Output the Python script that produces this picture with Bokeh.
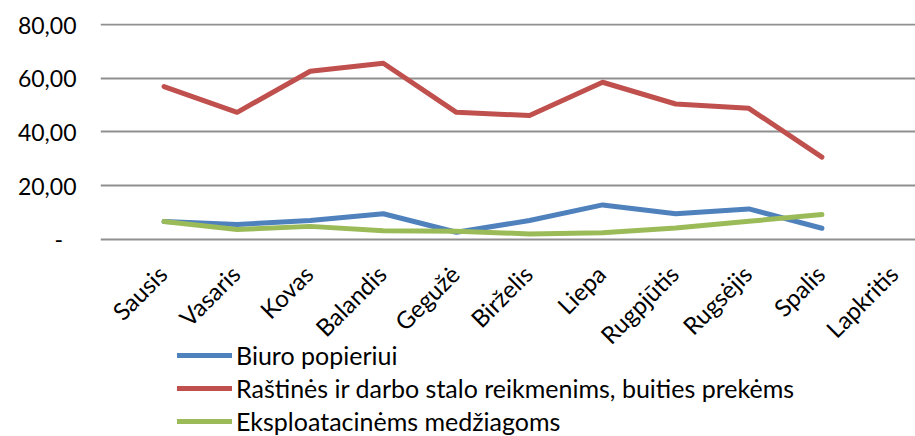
from bokeh.plotting import figure
from bokeh.models import Range1d, FixedTicker, Legend, LegendItem, ColumnDataSource
from bokeh.core.properties import value
from bokeh.embed import file_html
from bokeh.resources import INLINE

months = ["Sausis", "Vasaris", "Kovas", "Balandis", "Gegužė", "Birželis",
          "Liepa", "Rugpjūtis", "Rugsėjis", "Spalis", "Lapkritis"]
biuro = [6.6, 5.5, 7.0, 9.5, 2.6, 7.0, 12.8, 9.5, 11.3, 4.1]
rastines = [56.9, 47.3, 62.6, 65.6, 47.3, 46.1, 58.5, 50.4, 48.8, 30.6]
eksplo = [6.6, 3.6, 4.8, 3.2, 3.0, 2.0, 2.4, 4.2, 6.7, 9.2]
y_ticks = [0, 20, 40, 60, 80]
y_labels = ["-\u2007", "20,00", "40,00", "60,00", "80,00"]
series_names = ["Biuro popieriui",
                "Raštinės ir darbo stalo reikmenims, buities prekėms",
                "Eksploatacinėms medžiagoms"]

FONT = "Lato"
X_START, X_END = -0.5, 10.28

# plot frame covers the whole lower area; the category axis sits at y = 0
p = figure(frame_width=815, frame_height=413, output_backend="svg", toolbar_location=None,
           x_range=Range1d(-0.869, X_END), y_range=Range1d(-73.5, 80.4),
           x_axis_location=None,
           min_border_left=100, min_border_right=0, min_border_top=23,
           min_border_bottom=0)
p.outline_line_color = None
p.background_fill_color = None
p.border_fill_color = "white"

x = list(range(len(biuro)))
colors = ["#4F81BD", "#C0504D", "#9BBB59"]
renderers = []
for ys, c in zip([biuro, rastines, eksplo], colors):
    r = p.line(x, ys, line_color=c, line_width=5, line_cap="round", line_join="round")
    renderers.append(r)

# category labels, rotated 45 degrees under the zero line
cat_src = ColumnDataSource(dict(x=list(range(len(months))), y=[0] * len(months), text=months))
p.text(x="x", y="y", text="text", source=cat_src, angle=0.785398,
       text_align="right", text_baseline="top", x_offset=-12, y_offset=20,
       text_font=value(FONT), text_font_size="24px", text_color="black")

p.yaxis.ticker = FixedTicker(ticks=y_ticks)
p.yaxis.major_label_overrides = {t: l for t, l in zip(y_ticks, y_labels)}
p.yaxis.axis_line_color = None
p.yaxis.major_tick_line_color = None
p.yaxis.minor_tick_line_color = None
p.yaxis.major_tick_out = 0
p.yaxis.major_label_standoff = 24
p.yaxis.major_label_text_font = FONT
p.yaxis.major_label_text_font_size = "23px"
p.yaxis.major_label_text_color = "black"

p.xgrid.grid_line_color = None
p.ygrid.grid_line_color = "#8f8f8f"
p.ygrid.grid_line_width = 2
p.ygrid.ticker = FixedTicker(ticks=y_ticks)
p.ygrid.bounds = (X_START, X_END)

legend = Legend(items=[LegendItem(label=n, renderers=[r]) for n, r in zip(series_names, renderers)],
                location=(77, 0), orientation="vertical")
legend.glyph_width = 55
legend.glyph_height = 20
legend.label_height = 20
legend.spacing = 3
legend.padding = 0
legend.margin = 0
legend.label_standoff = 4
legend.border_line_color = None
legend.background_fill_alpha = 0
legend.label_text_font = FONT
legend.label_text_font_size = "25px"
legend.label_text_color = "black"
legend.label_text_baseline = "middle"
p.add_layout(legend, "center")

open("out.html", "w").write(file_html(p, INLINE))
